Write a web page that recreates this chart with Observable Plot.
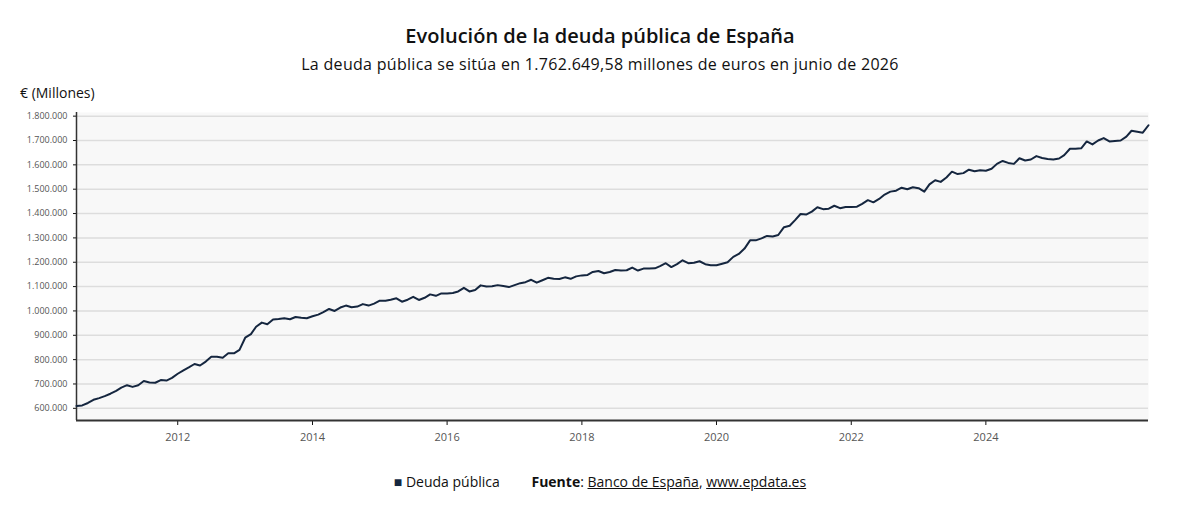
<!DOCTYPE html>
<html><head><meta charset="utf-8">
<script src="https://cdn.jsdelivr.net/npm/d3@7"></script>
<script src="https://cdn.jsdelivr.net/npm/@observablehq/plot@0.6"></script>
<style>
body{margin:0;background:#fff;font-family:"Open Sans",sans-serif;color:#111;}
#t{text-align:center;font-size:20px;font-weight:600;margin-top:22px;height:26px;}
#s{text-align:center;font-size:16px;margin-top:5px;height:24px;letter-spacing:0.3px;}
#u{font-size:14px;margin-left:20px;margin-top:6px;height:19px;}
#l{text-align:center;font-size:14px;margin-top:15px;}
#l a{color:#111;text-decoration:underline;}
</style></head><body>
<div id="t">Evolución de la deuda pública de España</div>
<div id="s">La deuda pública se sitúa en 1.762.649,58 millones de euros en junio de 2026</div>
<div id="u">€ (Millones)</div>
<div id="c"></div>
<div id="l"><span style="color:#15263f">■</span> Deuda pública <span style="margin-left:28px"><b>Fuente</b>: <a>Banco de España</a>, <a>www.epdata.es</a></span></div>
<script>
const startMonth = "2010-07";
const seriesName = "Deuda pública";
// values in thousands of millions of euros
const values = [
610,612,622,635,642,650,
660,672,685,695,688,695,712,706,705,716,714,725,
742,756,768,782,776,792,812,812,808,826,826,840,
890,905,935,952,945,965,967,970,966,975,972,970,
978,985,995,1008,1000,1014,1022,1015,1018,1028,1022,1030,
1042,1042,1046,1052,1038,1046,1058,1045,1054,1068,1062,1072,
1072,1074,1080,1095,1080,1086,1105,1100,1101,1106,1102,1098,
1106,1114,1118,1128,1116,1126,1136,1132,1131,1138,1132,1142,
1146,1148,1160,1164,1155,1160,1168,1166,1167,1178,1166,1174,
1174,1175,1184,1196,1180,1192,1208,1196,1198,1204,1192,1188,
1188,1194,1200,1222,1234,1256,1290,1290,1298,1308,1306,1312,
1344,1350,1372,1398,1396,1408,1426,1418,1420,1432,1422,1427,
1427,1428,1440,1455,1446,1460,1478,1490,1494,1506,1500,1508,
1504,1490,1520,1537,1530,1548,1572,1562,1566,1580,1574,1578,
1576,1584,1604,1616,1608,1604,1627,1618,1622,1636,1628,1624,
1622,1626,1640,1666,1666,1668,1696,1684,1700,1710,1696,1698,
1700,1716,1740,1736,1732,1762.65
];
const yTicks = [600,700,800,900,1000,1100,1200,1300,1400,1500,1600,1700,1800];
const xTickYears = [2012,2014,2016,2018,2020,2022,2024];

const t0 = new Date(startMonth + "-01T00:00:00");
const data = values.map((v,i)=>({date:d3.timeMonth.offset(t0,i), v}));
const fmt = d => (d*1000).toLocaleString("de-DE");
const xt = xTickYears.map(y=>new Date(y+"-01-01T00:00:00"));
const yr = d => String(d.getFullYear());
const chart = Plot.plot({
  width:1200, height:355, marginTop:10, marginBottom:37, marginLeft:76, marginRight:52,
  style:{fontFamily:"Open Sans, sans-serif", background:"#fff"},
  x:{type:"utc", domain:[data[0].date, data[data.length-1].date], label:null},
  y:{domain:[550,1815], label:null},
  marks:[
    Plot.frame({fill:"#f8f8f8", stroke:null}),
    Plot.gridY(yTicks,{stroke:"#ddd", strokeOpacity:1, strokeWidth:1.5}),
    Plot.axisY({ticks:yTicks, tickFormat:fmt, fontSize:9, fill:"#555", tickSize:3, label:null}),
    Plot.axisX({ticks:xt, tickFormat:yr, fontSize:11, fill:"#555", tickSize:5, tickPadding:8, label:null}),
    Plot.ruleY([550],{stroke:"#333", strokeWidth:2}),
    Plot.ruleX([data[0].date],{stroke:"#333", strokeWidth:1.5}),
    Plot.line(data,{x:"date", y:"v", stroke:"#15263f", strokeWidth:2})
  ]
});
document.getElementById("c").appendChild(chart);
</script>
</body></html>
